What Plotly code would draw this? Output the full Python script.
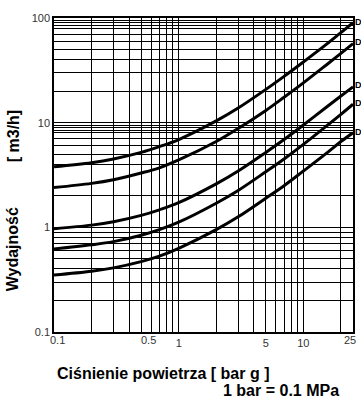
import math
import plotly.graph_objects as go

# pressure [bar g]
pressure = [0.1, 0.2, 0.3, 0.5, 0.7, 1, 2, 3, 5, 7, 10, 15, 20, 25]
# flow curves [m3/h], top to bottom
curve_1 = [3.8, 4.15, 4.5, 5.2, 5.9, 6.9, 10.4, 13.8, 20.8, 27.7, 38, 55, 72.6, 90]
curve_2 = [2.4, 2.63, 2.85, 3.3, 3.7, 4.4, 6.6, 8.8, 13.1, 17.5, 24, 35, 46, 57]
curve_3 = [0.97, 1.05, 1.13, 1.3, 1.47, 1.72, 2.6, 3.45, 5.2, 6.9, 9.5, 13.8, 18, 22]
curve_4 = [0.62, 0.68, 0.73, 0.84, 0.95, 1.12, 1.7, 2.25, 3.4, 4.5, 6.2, 9.1, 12, 15]
curve_5 = [0.35, 0.38, 0.41, 0.47, 0.53, 0.63, 0.95, 1.26, 1.9, 2.5, 3.45, 5, 6.6, 8]
curves = [curve_1, curve_2, curve_3, curve_4, curve_5]

# right-hand curve labels (cut off at image edge)
label_texts = ["D", "D", "D", "D", "D"]
label_levels = [91.6, 59, 23, 15.4, 8.1]

# grid / tick definitions
x_grid = [0.1, 0.2, 0.3, 0.4, 0.5, 0.6, 0.7, 0.8, 0.9, 1, 2, 3, 4, 5, 6, 7, 8, 9, 10, 20, 25]
x_labels = {1: "1", 5: "5", 10: "10"}
x_extra_labels = [(0.1, "0.1", 3), (0.5, "0.5", 7), (25, "25", -3)]
y_grid = [0.1, 0.2, 0.3, 0.4, 0.5, 0.6, 0.7, 0.8, 0.9, 1, 2, 4, 5, 6, 7, 8, 8.5, 9, 9.5, 10,
          20, 30, 40, 50, 60, 70, 80, 85, 90, 95, 100]
y_labels = {0.1: "0.1", 1: "1", 10: "10", 100: "100"}

x_title = "Ciśnienie powietrza [ bar g ]"
x_note = "1 bar = 0.1 MPa"
y_title_a = "Wydajność"
y_title_b = "[ m3/h]"

W, H = 361, 400
pl, pr, pt, pb = 54, 355, 18, 332


def px_x(x):
    return (x - pl) / (pr - pl)


def px_y(y):
    return (pb - y) / (pb - pt)


fig = go.Figure()
for c in curves:
    fig.add_trace(go.Scatter(x=pressure, y=c, mode="lines",
                             line=dict(color="black", width=3, shape="spline"),
                             hoverinfo="skip", showlegend=False))

tickfont = dict(family="Liberation Sans, Arial", size=11, color="#333")
fig.update_xaxes(type="log", range=[-1, math.log10(25)], tickvals=x_grid,
                 ticktext=[x_labels.get(v, "") for v in x_grid], tickfont=tickfont,
                 showgrid=True, gridcolor="#000", gridwidth=1.2, zeroline=False,
                 showline=True, linecolor="black", linewidth=1.5, mirror=True, ticks="")
fig.update_yaxes(type="log", range=[-1, 2], tickvals=y_grid,
                 ticktext=[y_labels.get(v, "") for v in y_grid], tickfont=tickfont,
                 showgrid=True, gridcolor="#000", gridwidth=1.2, zeroline=False,
                 showline=True, linecolor="black", linewidth=1.5, mirror=True, ticks="")

bold = dict(family="Liberation Sans, Arial", size=16, color="black")
ann = []
for t, lv in zip(label_texts, label_levels):
    ann.append(dict(text="<b>%s</b>" % t, x=px_x(355), xref="paper", xanchor="left",
                    y=math.log10(lv), yref="y", yanchor="middle", showarrow=False,
                    font=dict(family="Liberation Sans, Arial", size=9, color="black")))
for v, t, sh in x_extra_labels:
    ann.append(dict(text=t, x=math.log10(v), xref="x", xanchor="center", xshift=sh,
                    y=px_y(340), yref="paper", yanchor="middle", showarrow=False, font=tickfont))
ann.append(dict(text="<b>%s</b>" % x_title, x=px_x(164), y=px_y(373), xref="paper", yref="paper",
                xanchor="center", yanchor="middle", showarrow=False, font=bold))
ann.append(dict(text="<b>%s</b>" % x_note, x=px_x(343), y=px_y(390), xref="paper", yref="paper",
                xanchor="right", yanchor="middle", showarrow=False, font=bold))
ann.append(dict(text="<b>%s</b>" % y_title_a, x=px_x(13), y=px_y(249), xref="paper", yref="paper",
                xanchor="center", yanchor="middle", textangle=-90, showarrow=False, font=bold))
ann.append(dict(text="<b>%s</b>" % y_title_b, x=px_x(13), y=px_y(136), xref="paper", yref="paper",
                xanchor="center", yanchor="middle", textangle=-90, showarrow=False, font=bold))

fig.update_layout(width=W, height=H, margin=dict(l=pl, r=W - pr, t=pt, b=H - pb),
                  paper_bgcolor="white", plot_bgcolor="white", annotations=ann)
fig.write_html("out.html", config={"displayModeBar": False},
               post_script="document.body.style.margin='0';")
